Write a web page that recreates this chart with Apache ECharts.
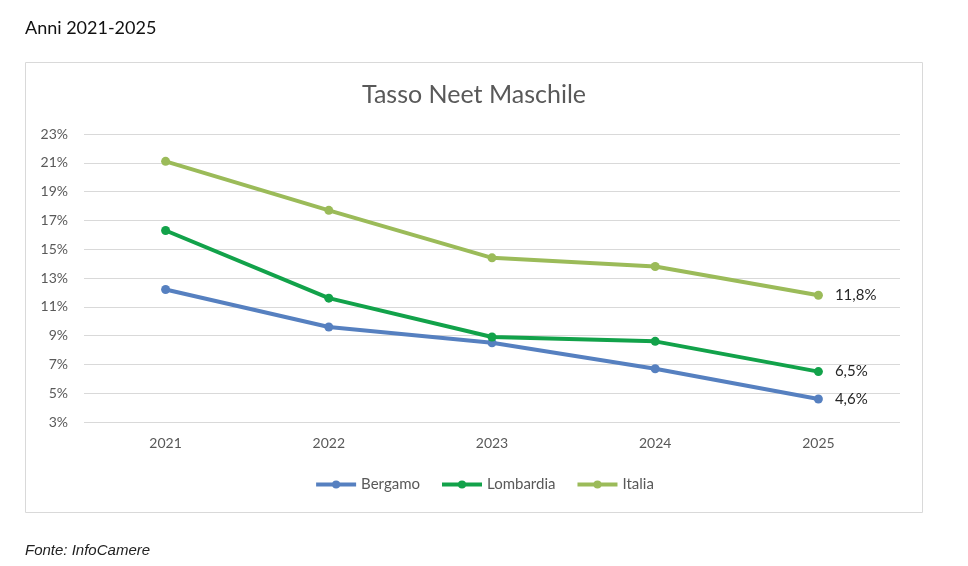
<!DOCTYPE html>
<html>
<head>
<meta charset="utf-8">
<title>Tasso Neet Maschile</title>
<script src="https://cdn.jsdelivr.net/npm/echarts@6/dist/echarts.min.js"></script>
<style>
	html, body {
		margin: 0;
		padding: 0;
		background: #fff;
	}
	#chart {
		width: 968px;
		height: 566px;
	}
</style>
</head>
<body>
<div id="chart"></div>
<script>
	var years = ['2021', '2022', '2023', '2024', '2025'];
	var bergamo = [12.2, 9.6, 8.5, 6.7, 4.6];
	var lombardia = [16.3, 11.6, 8.9, 8.6, 6.5];
	var italia = [21.1, 17.7, 14.4, 13.8, 11.8];

	var font = 'Lato, "Open Sans", sans-serif';
	var chart = echarts.init(document.getElementById('chart'));

	function makeSeries(name, data, color) {
		return {
			name: name,
			type: 'line',
			data: data,
			symbol: 'circle',
			symbolSize: 9,
			lineStyle: { width: 4, color: color },
			itemStyle: { color: color },
			label: {
				show: true,
				position: 'right',
				distance: 12,
				color: '#262626',
				fontSize: 15,
				fontFamily: font,
				// only the last year carries a label
				formatter: function (p) {
					if (p.dataIndex != data.length - 1) return '';
					return String(p.value).replace('.', ',') + '%';
				}
			}
		};
	}

	chart.setOption({
		animation: false,
		color: ['#5680c0', '#12a24a', '#9bbb59'],
		title: [{
			text: 'Anni 2021-2025',
			left: 20,
			top: 14,
			textStyle: { color: '#111', fontSize: 18, fontWeight: 'normal', fontFamily: font }
		}, {
			text: 'Fonte: InfoCamere',
			left: 20,
			top: 538,
			textStyle: { color: '#222', fontSize: 15, fontWeight: 'normal', fontStyle: 'italic', fontFamily: '"Liberation Sans", Arial, sans-serif' }
		}],
		graphic: [{
			type: 'rect',
			shape: { x: 25.5, y: 62.5, width: 897, height: 450 },
			style: { fill: 'none', stroke: '#d9d9d9', lineWidth: 1 },
			silent: true,
			z: -1
		}, {
			type: 'text',
			x: 474,
			y: 95,
			style: {
				text: 'Tasso Neet Maschile',
				fill: '#595959',
				fontSize: 25,
				fontFamily: font,
				align: 'center',
				verticalAlign: 'middle'
			}
		}],
		legend: {
			top: 472,
			left: 'center',
			itemWidth: 40,
			itemHeight: 10,
			itemGap: 20,
			lineStyle: { width: 4 },
			textStyle: { color: '#595959', fontSize: 15, fontFamily: font },
			data: ['Bergamo', 'Lombardia', 'Italia']
		},
		grid: {
			left: 84,
			right: 68,
			top: 134,
			bottom: 144
		},
		xAxis: {
			type: 'category',
			data: years,
			boundaryGap: true,
			axisLine: { show: false },
			axisTick: { show: false },
			axisLabel: { color: '#595959', fontSize: 14, margin: 14, fontFamily: font }
		},
		yAxis: {
			type: 'value',
			min: 3,
			max: 23,
			interval: 2,
			axisLabel: { color: '#595959', fontSize: 14, margin: 16, formatter: '{value}%', fontFamily: font },
			splitLine: { lineStyle: { color: '#d9d9d9', width: 1 } }
		},
		series: [
			makeSeries('Bergamo', bergamo, '#5680c0'),
			makeSeries('Lombardia', lombardia, '#12a24a'),
			makeSeries('Italia', italia, '#9bbb59')
		]
	});
</script>
</body>
</html>
